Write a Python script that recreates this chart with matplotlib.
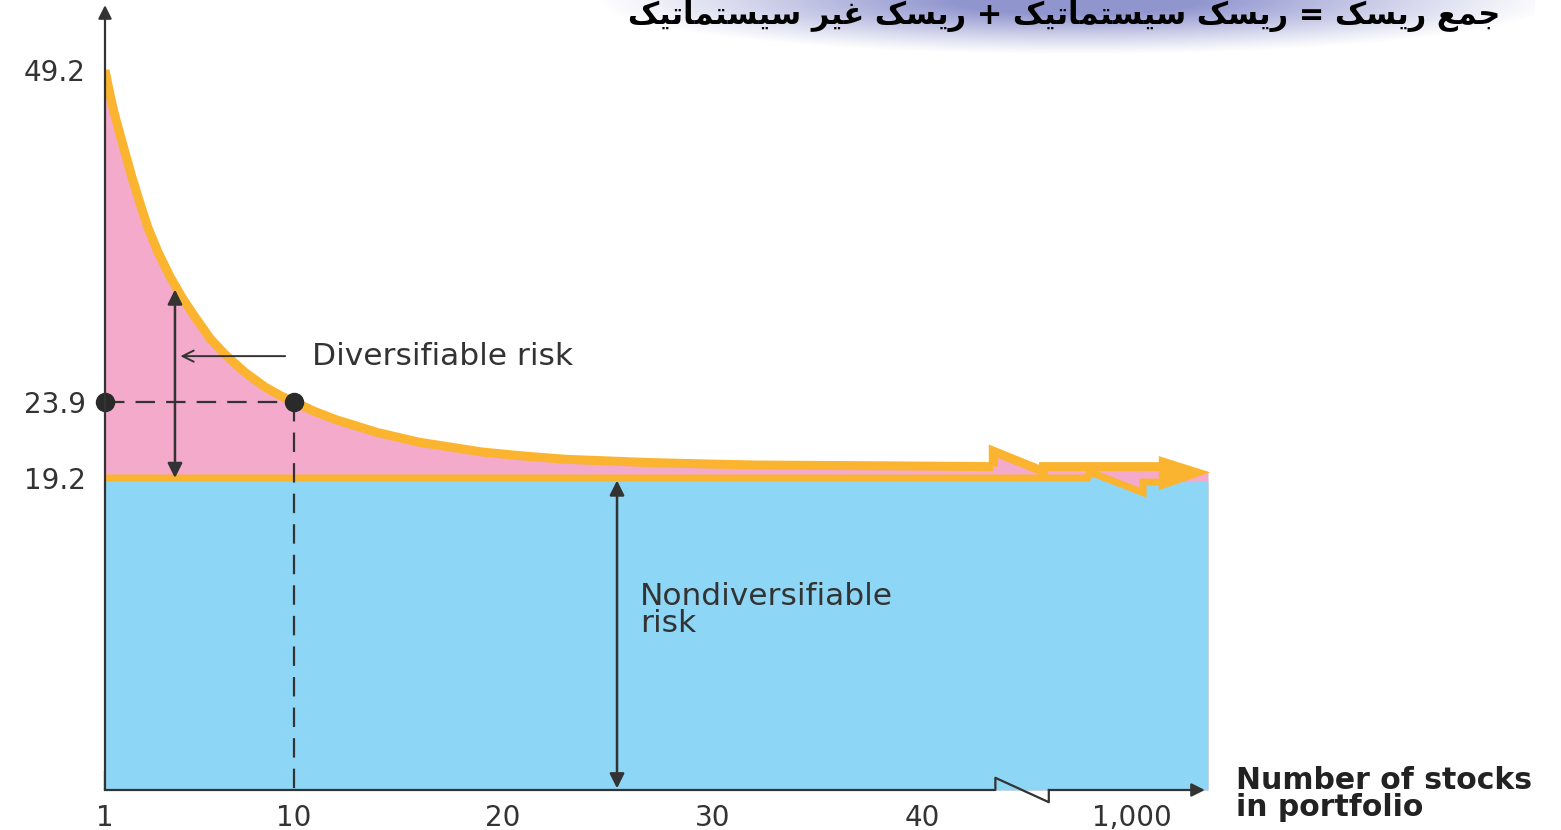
"""Diversification chart: total risk vs number of stocks in portfolio."""
import numpy as np
import matplotlib

matplotlib.use("Agg")
import matplotlib.pyplot as plt

plt.rcParams["font.family"] = ["DejaVu Sans"]
plt.rcParams["lines.scale_dashes"] = False

# values (y in the drawn scale of the schematic)
stocks = [1, 1.14, 1.29, 1.43, 1.62, 1.81, 2.05, 2.29, 2.67, 3.05, 3.53, 4.1, 4.68,
          5.3, 6.01, 6.73, 7.68, 8.64, 9.4, 10, 11, 12, 13, 14, 15, 16, 17.5, 19,
          21, 23, 25, 27, 29.5, 32, 38, 43.4]
total_risk = [44.3, 43.4, 42.5, 41.7, 40.8, 39.9, 38.8, 37.7, 36.1, 34.6, 33.1, 31.6,
              30.3, 29.1, 27.8, 26.8, 25.7, 24.8, 24.25, 23.9, 23.3, 22.8, 22.4, 22.0,
              21.7, 21.4, 21.1, 20.8, 20.55, 20.35, 20.25, 20.15, 20.07, 20.0, 19.95, 19.9]
market_risk = 19.2
marked_n = 10
marked_risk = 23.9
top_risk_pos = 44.3

xtick_pos = [1, 10, 20, 30, 40, 50]
xtick_labels = ["1", "10", "20", "30", "40", "1,000"]
ytick_pos = [market_risk, marked_risk, top_risk_pos]
ytick_labels = ["19.2", "23.9", "49.2"]

# broken-axis decoration between 40 and 1,000
curve_break_x = [43.4, 45.8, 45.8, 51.6]
curve_break_y = [20.85, 19.6, 19.9, 19.9]
base_break_x = [47.9, 48.0, 50.55, 50.55, 51.6]
base_break_y = [19.2, 19.57, 18.3, 18.95, 18.95]
axis_break_x = [43.5, 43.5, 46.05, 46.05]
axis_break_y = [0, 0.75, -0.75, 0]
head_x = [51.3, 53.75, 51.3]
head_y = [20.55, 19.55, 18.45]
x_end = 53.65

title = "جمع ریسک = ریسک سیستماتیک + ریسک غیر سیستماتیک"

PINK = "#F3AACB"
BLUE = "#8ED6F5"
GOLD = "#FBB430"
INK = "#333333"

# minimal Persian shaping: isolated, final, initial, medial
FORMS = {
    "ا": ("\uFE8D", "\uFE8E", None, None),
    "ت": ("\uFE95", "\uFE96", "\uFE97", "\uFE98"),
    "ج": ("\uFE9D", "\uFE9E", "\uFE9F", "\uFEA0"),
    "ر": ("\uFEAD", "\uFEAE", None, None),
    "س": ("\uFEB1", "\uFEB2", "\uFEB3", "\uFEB4"),
    "ع": ("\uFEC9", "\uFECA", "\uFECB", "\uFECC"),
    "غ": ("\uFECD", "\uFECE", "\uFECF", "\uFED0"),
    "م": ("\uFEE1", "\uFEE2", "\uFEE3", "\uFEE4"),
    "ک": ("\uFB8E", "\uFB8F", "\uFB90", "\uFB91"),
    "ی": ("\uFBFC", "\uFBFD", "\uFBFE", "\uFBFF"),
}


def shape_rtl(text):
    out = []
    for i, c in enumerate(text):
        if c not in FORMS:
            out.append(c)
            continue
        iso, fin, ini, med = FORMS[c]
        prev = text[i - 1] if i > 0 else ""
        nxt = text[i + 1] if i + 1 < len(text) else ""
        pj = prev in FORMS and FORMS[prev][2] is not None
        nj = nxt in FORMS and ini is not None
        if pj and nj:
            out.append(med)
        elif pj:
            out.append(fin)
        elif nj:
            out.append(ini)
        else:
            out.append(iso)
    return "".join(out)[::-1]


W, H = 1561, 830
fig = plt.figure(figsize=(W / 100, H / 100), dpi=100)

ax = fig.add_axes([105 / W, 40 / H, (W - 105) / W, 790 / H])
ax.set_facecolor("none")

# soft lavender band behind the (cut off) title
bax = fig.add_axes([570 / W, 1 - 55 / H, 965 / W, 55 / H], zorder=-1)
gx = np.linspace(-1, 1, 500)[None, :]
gy = np.linspace(0, 1, 60)[:, None]
r = np.sqrt(((gx - 0.05) / 1.0) ** 2 + (gy / 1.0) ** 2)
alpha = np.clip(1 - r, 0, 1) ** 1.1
img = np.zeros((60, 500, 4))
img[..., 0], img[..., 1], img[..., 2] = 0.52, 0.54, 0.79
img[..., 3] = np.clip(alpha * 1.25, 0, 0.9)
bax.imshow(img, aspect="auto", interpolation="bilinear")
bax.axis("off")

fig.text(1500 / W, 1 - 24 / H, shape_rtl(title), ha="right", va="baseline",
         fontsize=22, fontweight="bold", color="black")

ax.set_xlim(1, 1 + (W - 105) / 20.95)
ax.set_ylim(0, 790 / 16.25)
for s in ax.spines.values():
    s.set_visible(False)

curve_x = stocks + curve_break_x + [x_end]
curve_y = total_risk + curve_break_y + [19.6]
base_x = [1] + base_break_x + [x_end]
base_y = [market_risk] + base_break_y + [19.0]

ax.fill_between(curve_x, 0, curve_y, color=PINK, lw=0, zorder=1)
ax.fill_between(base_x, 0, base_y, color=BLUE, lw=0, zorder=2)
ax.plot(stocks, total_risk, color=GOLD, lw=6.5, solid_joinstyle="round",
        solid_capstyle="butt", zorder=3)
ax.plot(stocks[-1:] + curve_break_x, total_risk[-1:] + curve_break_y, color=GOLD,
        lw=6.5, solid_joinstyle="miter", solid_capstyle="butt", zorder=3)
ax.plot(base_x[:-1], base_y[:-1], color=GOLD, lw=5, solid_joinstyle="miter",
        solid_capstyle="butt", zorder=3)
ax.fill(head_x, head_y, color=GOLD, lw=0, zorder=3)

# dashed guides to the 10-stock point
ax.plot([1, marked_n], [marked_risk, marked_risk], color=INK, lw=1.6,
        dashes=(14, 8), zorder=4)
ax.plot([marked_n, marked_n], [marked_risk, 0], color=INK, lw=1.6,
        dashes=(14, 8), zorder=4)
ax.plot([1, marked_n], [marked_risk, marked_risk], "o", ms=13, color="#2a2a2a",
        clip_on=False, zorder=5)

arrow2 = dict(arrowstyle="<|-|>", color=INK, lw=1.8, mutation_scale=22,
              shrinkA=0, shrinkB=0)
ax.annotate("", xy=(4.34, 30.8), xytext=(4.34, market_risk), arrowprops=arrow2, zorder=5)
ax.annotate("", xy=(25.44, 0.1), xytext=(25.44, 19.05), arrowprops=arrow2, zorder=5)
ax.annotate("", xy=(4.6, 26.7), xytext=(9.6, 26.7),
            arrowprops=dict(arrowstyle="->", color=INK, lw=1.4, mutation_scale=20,
                            shrinkA=0, shrinkB=0), zorder=5)

ax.text(10.9, 26.7, "Diversifiable risk", fontsize=22.5, color=INK, va="center", ha="left")
ax.text(26.55, 11.1, "Nondiversifiable\nrisk", fontsize=22.5, color=INK, va="center",
        ha="left", linespacing=0.92)
ax.text(55.0, -0.25, "Number of stocks\nin portfolio", fontsize=21.5, fontweight="bold",
        color="#222222", va="center", ha="left", linespacing=0.88, clip_on=False)

# axes drawn by hand (arrow ends, broken x axis)
ax.annotate("", xy=(1, 48.3), xytext=(1, 0),
            arrowprops=dict(arrowstyle="-|>", color=INK, lw=1.6, mutation_scale=20,
                            shrinkA=0, shrinkB=0), annotation_clip=False, zorder=6)
ax.plot([1] + axis_break_x, [0] + axis_break_y, color=INK, lw=1.6, clip_on=False, zorder=6)
ax.annotate("", xy=(53.5, 0), xytext=(46.05, 0),
            arrowprops=dict(arrowstyle="-|>", color=INK, lw=1.6, mutation_scale=20,
                            shrinkA=0, shrinkB=0), annotation_clip=False, zorder=6)

ax.set_xticks(xtick_pos, xtick_labels)
ax.set_yticks(ytick_pos, ytick_labels)
ax.tick_params(axis="x", direction="in", length=14, width=1.6, color=INK, pad=10,
               labelsize=20, labelcolor=INK)
ax.tick_params(axis="y", length=0, pad=14, labelsize=20, labelcolor=INK)

fig.savefig("out.png", dpi=100)
